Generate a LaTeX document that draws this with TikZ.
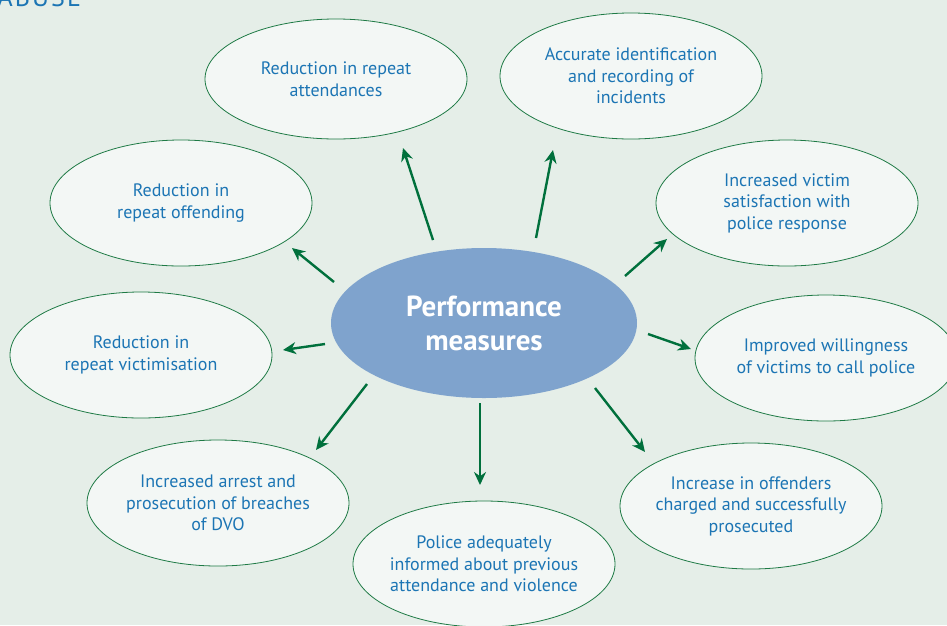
\documentclass[tikz,border=0pt]{standalone}
\usepackage{fontspec}
\setmainfont{PT Sans}
\usetikzlibrary{arrows.meta,shapes.geometric}
\definecolor{bgcol}{HTML}{E5EEE8}
\definecolor{ovalfill}{HTML}{F3F7F5}
\definecolor{ovalline}{HTML}{1E7A45}
\definecolor{txtblue}{HTML}{1C75B4}
\definecolor{hubfill}{HTML}{7FA3CD}
\definecolor{arrgreen}{HTML}{00703C}
\tikzset{
  measure/.style={ellipse, draw=ovalline, line width=0.8pt, fill=ovalfill,
    minimum width=262pt, minimum height=126pt, inner xsep=-30pt, inner ysep=-10pt,
    align=center, text=txtblue, font=\fontsize{18}{21.5}\selectfont},
  hub/.style={ellipse, fill=hubfill, minimum width=306pt, minimum height=150pt,
    inner sep=0pt, align=center, text=white, font=\bfseries\fontsize{29}{34}\selectfont},
  pointer/.style={draw=arrgreen, line width=2.4pt, -{Stealth[length=13pt,width=12pt]}}
}
\begin{document}
\begin{tikzpicture}[x=1pt,y=-1pt]
		%%%%% START %%%%%
		\clip (0,0) rectangle (947,625);
		\fill[bgcol] (0,0) rectangle (947,625);
		
		\node[anchor=base west, text=txtblue, font=\fontsize{26}{26}\selectfont] (title) at (-6,6) {\addfontfeature{LetterSpace=8}ABUSE};
		
		\node[hub] (hub) at (484,323) {Performance\\measures};
		
		\node[measure, minimum height=120pt] (attend) at (336,79) {Reduction in repeat\\attendances};
		\node[measure] (ident) at (631,76) {Accurate identification\\and recording of\\incidents};
		\node[measure] (offend) at (181,203) {Reduction in\\repeat offending};
		\node[measure] (satisf) at (787,203) {Increased victim\\satisfaction with\\police response};
		\node[measure] (victim) at (141,355) {Reduction in\\repeat victimisation};
		\node[measure] (willing) at (826,358) {Improved willingness\\of victims to call police};
		\node[measure] (arrest) at (218,503) {Increased arrest and\\prosecution of breaches\\of DVO};
		\node[measure] (inform) at (484,564) {Police adequately\\informed about previous\\attendance and violence};
		\node[measure] (charge) at (751,506) {Increase in offenders\\charged and successfully\\prosecuted};
		
		% arrow ends
		\coordinate (a1) at (433,240); \coordinate (b1) at (403,148);
		\coordinate (a2) at (536,238); \coordinate (b2) at (553,150);
		\coordinate (a3) at (334,282); \coordinate (b3) at (292,248);
		\coordinate (a4) at (625,276); \coordinate (b4) at (667,239);
		\coordinate (a5) at (325,344); \coordinate (b5) at (283,350);
		\coordinate (a6) at (648,334); \coordinate (b6) at (691,349);
		\coordinate (a7) at (367,384); \coordinate (b7) at (316,450);
		\coordinate (a8) at (480,403); \coordinate (b8) at (480,485);
		\coordinate (a9) at (595,388); \coordinate (b9) at (645,452);
		
		\foreach \i in {1,...,9}
		  \draw[pointer] (a\i) -- (b\i);
		
		%%%%% END %%%%%
\end{tikzpicture}
\end{document}
